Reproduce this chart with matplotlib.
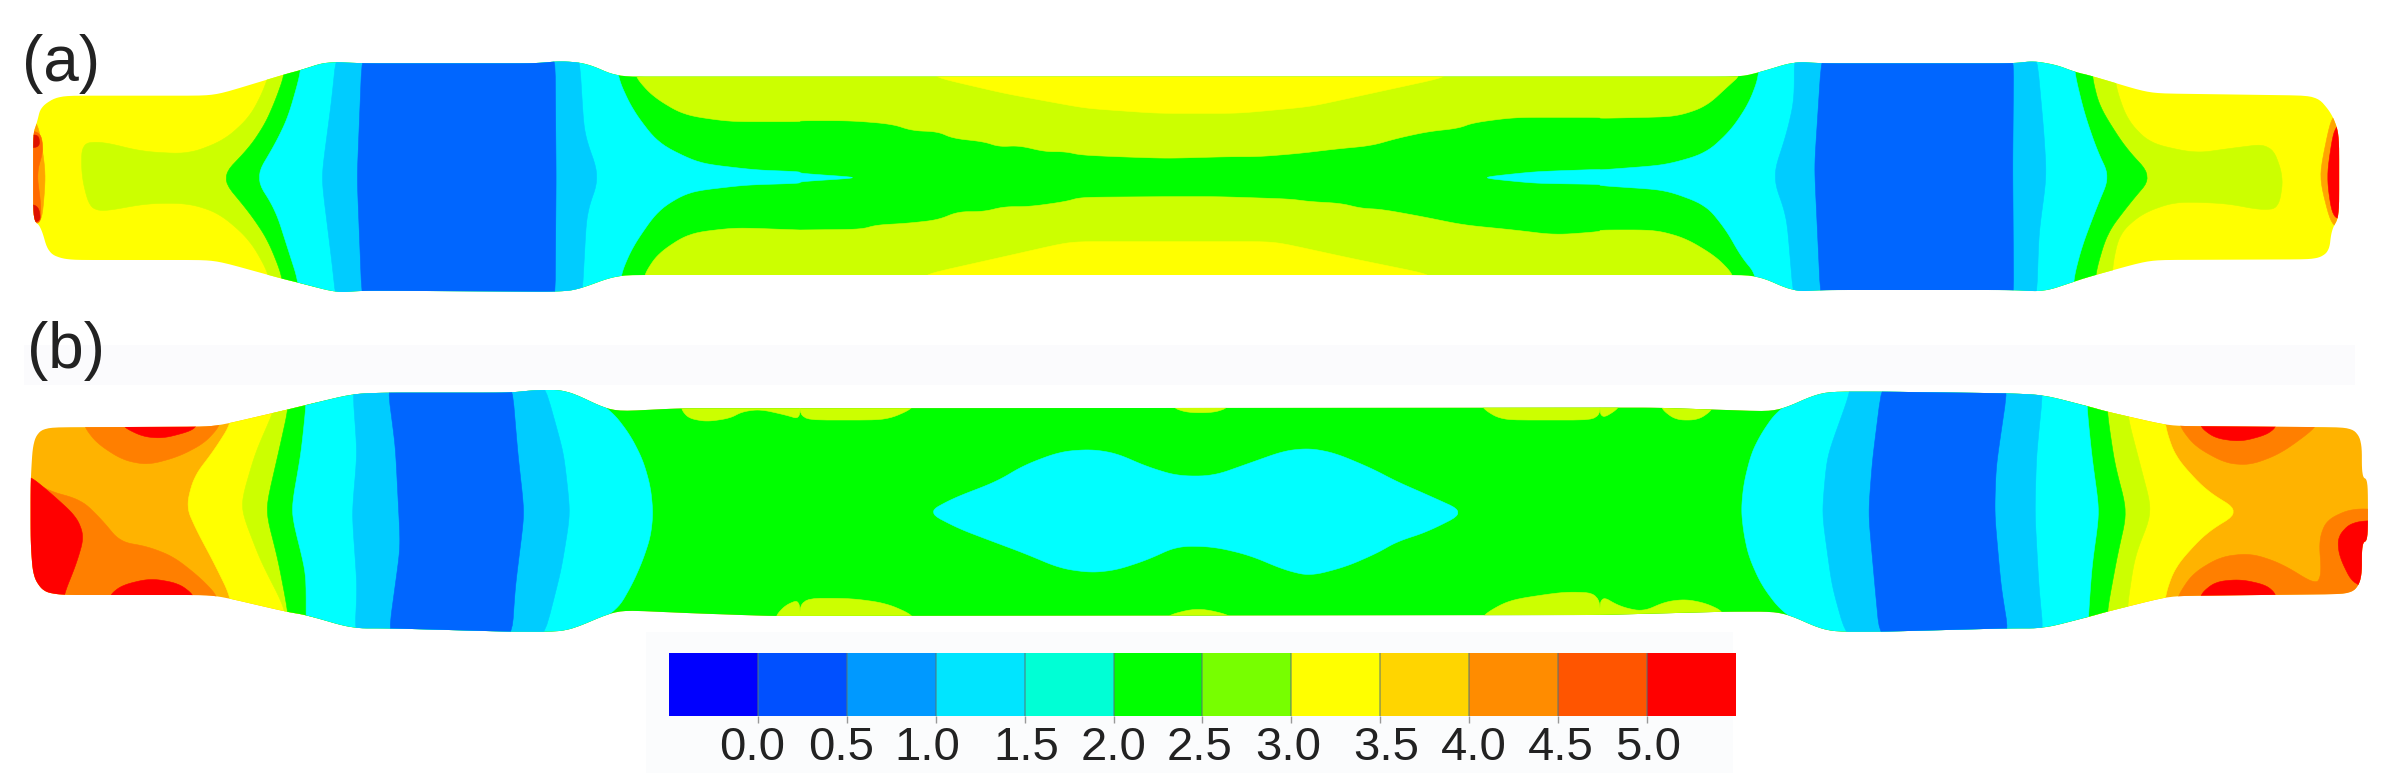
import numpy as np
import matplotlib
matplotlib.use('Agg')
import matplotlib.pyplot as plt
from matplotlib.colors import ListedColormap
from matplotlib.patches import Polygon

plt.rcParams['font.family'] = ['Liberation Sans', 'DejaVu Sans']

# colours of the contour bands
YELLOW = '#ffff00'
LIME = '#ccff00'
GREEN = '#00ff00'
CYAN = '#00ffff'
SKY = '#00ccff'
BLUE = '#0066ff'
AMBER = '#ffb300'
ORANGE = '#ff7f00'
RED = '#ff0000'

# colour bar
bar_levels = np.arange(-0.5, 5.51, 0.5)
bar_colors = ['#0000ff', '#0050ff', '#0099ff', '#00e5ff', '#00ffd5', '#00ff00',
              '#77ff00', '#ffff00', '#ffd500', '#ff8c00', '#ff5500', '#ff0000']
bar_ticks = [0.0, 0.5, 1.0, 1.5, 2.0, 2.5, 3.0, 3.5, 4.0, 4.5, 5.0]
bar_nudge = [-0.034, -0.034, -0.045, 0.011, 0.0, -0.017, -0.017, 0.034, 0.028, 0.017, 0.006]

# outlines read from the crops: (x, y) inside crop, split by crop
# panel (a), crops a1 (0,0), a2 (800,0), a3 (1600,0)
a_body_1 = [(72, 370), (80, 320), (115, 287), (420, 287), (560, 222), (590, 210), (640, 185), (710, 190),
            (1050, 190), (1100, 183), (1150, 190), (1210, 230)]
a_body_3 = [(280, 230), (320, 215), (385, 185), (440, 190), (820, 190), (860, 183), (905, 195), (940, 215),
            (975, 228), (1090, 280), (1420, 287), (1450, 340), (1465, 400), (1465, 650), (1450, 690), (1445, 755),
            (1420, 778), (1090, 780), (970, 830), (940, 845), (880, 875), (820, 870), (440, 870), (385, 875),
            (310, 825)]
a_body_4 = [(1210, 825), (1130, 870), (1090, 875), (710, 872), (660, 878), (590, 850), (550, 835), (420, 780),
            (130, 780), (95, 760), (80, 680), (65, 660), (65, 400)]

a_tip_l_orange = [(55, 360), (75, 370), (90, 520), (82, 670), (55, 670)]
a_tip_l_dark = [(55, 390), (80, 400), (85, 450), (72, 520), (80, 610), (80, 670), (55, 670)]
a_tip_l_red = [(55, 405), (76, 405), (78, 440), (55, 445)]
a_tip_l_red2 = [(55, 610), (76, 620), (80, 665), (55, 665)]
a_tip_r_orange = [(1480, 340), (1450, 345), (1425, 530), (1450, 680), (1480, 680)]
a_tip_r_red = [(1480, 370), (1455, 380), (1440, 530), (1452, 655), (1480, 655)]

a_lime_l = [(540, 150), (520, 260), (490, 350), (440, 420), (370, 462), (280, 455), (200, 425), (160, 430),
            (160, 530), (175, 620), (200, 635), (290, 610), (370, 610), (430, 640), (490, 720), (530, 830),
            (530, 920), (620, 920), (620, 150)]
a_lime_r = [(960, 150), (1020, 150), (1020, 250), (1045, 360), (1090, 430), (1180, 460), (1250, 445), (1330, 430),
            (1355, 530), (1345, 625), (1310, 630), (1240, 610), (1140, 605), (1075, 640), (1030, 700), (1015, 800),
            (1015, 920), (960, 920)]
a_green_l = [(558, 150), (558, 222), (540, 300), (520, 370), (490, 440), (432, 533), (490, 640), (525, 720),
             (555, 835), (555, 920)]
a_green_r = [(985, 920), (980, 830), (1005, 700), (1050, 610), (1095, 530), (1040, 440), (990, 320), (975, 228),
             (975, 150)]
a_cyan_l_1 = [(590, 150), (590, 215), (565, 350), (540, 430), (500, 533), (540, 630), (565, 750), (585, 845),
              (585, 920), (1215, 920), (1215, 830), (1240, 740), (1290, 630), (1350, 575), (1460, 555), (1568, 550)]
a_cyan_l_2 = [(0, 545), (120, 533), (0, 520)]
a_cyan_l_3 = [(1568, 515), (1480, 510), (1370, 490), (1290, 430), (1240, 330), (1210, 230), (1210, 150)]
a_cyan_r_1 = [(315, 150), (315, 230), (295, 310), (260, 390), (210, 460), (130, 495), (0, 510)]
a_cyan_r_2 = [(1568, 508), (1440, 515), (1330, 533), (1440, 550), (1568, 553)]
a_cyan_r_3 = [(0, 557), (130, 570), (210, 615), (250, 690), (280, 770), (310, 825), (310, 920), (938, 920),
              (938, 840), (955, 740), (985, 620), (1010, 530), (985, 450), (960, 340), (940, 215), (940, 150)]
a_sky_l = [(660, 150), (650, 300), (630, 533), (650, 780), (660, 920), (1140, 920), (1150, 640), (1175, 530),
           (1145, 400), (1135, 150)]
a_blue_l = [(710, 150), (700, 533), (710, 920), (1088, 920), (1090, 533), (1088, 150)]
a_sky_r = [(385, 150), (385, 300), (370, 400), (342, 530), (370, 650), (385, 920), (865, 920), (870, 700),
           (885, 530), (880, 400), (865, 150)]
a_blue_r = [(440, 150), (425, 500), (438, 920), (820, 920), (818, 500), (820, 150)]

a_lime_top_1 = [(1245, 190), (1245, 230), (1280, 290), (1340, 345), (1430, 365), (1568, 365)]
a_lime_top_2 = [(0, 362), (100, 362), (180, 372), (220, 392), (270, 395), (300, 415), (360, 425), (390, 440),
                (430, 437), (480, 455), (520, 455), (550, 465), (620, 470), (720, 475), (840, 470), (900, 470),
                (980, 460), (1050, 447), (1120, 437), (1170, 415), (1230, 395), (1290, 385), (1320, 368),
                (1400, 352), (1568, 352)]
a_lime_top_3 = [(0, 355), (150, 350), (210, 320), (260, 250), (275, 230), (275, 190)]
a_lime_bot_1 = [(1262, 870), (1262, 825), (1290, 760), (1350, 700), (1440, 683), (1568, 690)]
a_lime_bot_2 = [(0, 690), (120, 688), (150, 675), (210, 670), (270, 660), (310, 635), (360, 635), (400, 620),
                (450, 620), (520, 605), (550, 592), (720, 590), (820, 590), (960, 597), (1000, 605), (1060, 610),
                (1100, 625), (1140, 628), (1220, 650), (1300, 675), (1400, 690), (1480, 705), (1568, 695)]
a_lime_bot_3 = [(0, 690), (110, 690), (170, 715), (230, 770), (265, 825), (265, 870)]
a_yellow_top = [(260, 190), (260, 230), (400, 280), (560, 325), (700, 340), (860, 340), (1000, 320), (1150, 270),
                (1270, 230), (1270, 190)]
a_yellow_bot = [(240, 870), (240, 825), (400, 770), (530, 725), (930, 725), (1080, 775), (1240, 825), (1240, 870)]

# panel (b), crops b1 (0,320), b2 (800,340), b3 (1600,340)
b_body_1 = [(60, 480), (65, 360), (85, 322), (420, 320), (560, 270), (600, 255), (690, 222), (750, 218),
            (1000, 218), (1050, 210), (1110, 210), (1200, 275), (1330, 265)]
b_body_3 = [(40, 203), (110, 203), (350, 215), (440, 155), (560, 155), (810, 160), (880, 165), (970, 200),
            (1005, 215), (1130, 258), (1490, 262), (1510, 300), (1510, 410), (1522, 420), (1522, 600), (1510, 610),
            (1510, 720), (1490, 762), (1130, 768), (1005, 815), (970, 830), (880, 865), (810, 865), (560, 875),
            (450, 875), (360, 815), (250, 815), (0, 825)]
b_body_4 = [(1510, 888), (1360, 880), (1210, 870), (1110, 935), (1000, 935), (760, 925), (690, 925), (600, 885),
            (560, 875), (420, 825), (120, 825), (85, 815), (65, 770), (60, 670)]

b_or_l_top = [(165, 290), (165, 320), (190, 370), (240, 420), (290, 435), (350, 410), (400, 370), (430, 320), (430, 290)]
b_red_l_top = [(240, 290), (240, 320), (280, 350), (320, 355), (370, 335), (385, 320), (385, 290)]
b_or_l_bot = [(40, 470), (60, 470), (90, 510), (160, 540), (200, 600), (235, 665), (290, 680), (340, 710), (390, 770),
              (425, 825), (425, 860), (40, 860)]
b_red_l = [(40, 470), (60, 470), (100, 520), (150, 590), (165, 650), (150, 730), (125, 825), (125, 860), (40, 860)]
b_red_l_bot = [(215, 860), (215, 825), (240, 795), (295, 775), (350, 790), (380, 825), (380, 860)]

b_yellow_l = [(455, 200), (455, 305), (420, 390), (380, 470), (365, 560), (385, 630), (420, 730), (455, 840), (455, 960),
              (620, 960), (620, 200)]
b_lime_l = [(540, 200), (540, 260), (500, 400), (470, 560), (510, 720), (560, 870), (560, 960), (620, 960), (620, 200)]
b_green_l = [(565, 200), (565, 265), (550, 370), (520, 570), (545, 720), (565, 880), (565, 960)]
b_cyan_l = [(600, 180), (600, 255), (590, 400), (570, 575), (600, 760), (600, 960), (1110, 960), (1210, 870),
            (1240, 790), (1260, 720), (1275, 650), (1280, 580), (1275, 500), (1260, 420), (1235, 345), (1200, 275), (1110, 180)]
b_sky_l = [(690, 180), (700, 400), (690, 580), (700, 800), (695, 960), (1065, 960), (1100, 750), (1118, 580),
           (1105, 400), (1065, 180)]
b_blue_l = [(758, 180), (775, 380), (785, 680), (760, 960), (1003, 960), (1010, 800), (1028, 580), (1015, 400),
            (1003, 180)]

b_yellow_r = [(960, 120), (1118, 120), (1118, 250), (1140, 350), (1200, 450), (1270, 515), (1200, 580), (1140, 680),
              (1118, 775), (1118, 900), (960, 900)]
b_lime_r = [(960, 120), (1045, 120), (1045, 225), (1070, 370), (1095, 515), (1060, 650), (1045, 800), (1045, 900), (960, 900)]
b_green_r = [(1005, 900), (1005, 815), (1025, 650), (1045, 515), (1020, 370), (1005, 215), (1005, 120)]
b_cyan_r = [(440, 120), (350, 215), (320, 280), (300, 340), (285, 430), (280, 510), (285, 580), (295, 650), (320, 735),
            (360, 815), (450, 900), (968, 900), (968, 830), (975, 680), (990, 515), (975, 350), (965, 200), (965, 120)]
b_sky_r = [(495, 120), (495, 160), (450, 350), (440, 520), (460, 740), (490, 900), (880, 900), (870, 740), (862, 520),
           (865, 350), (880, 120)]
b_blue_r = [(560, 120), (540, 360), (532, 520), (545, 740), (555, 900), (812, 900), (795, 740), (782, 520), (785, 380),
            (810, 120)]
b_or_r_top = [(1150, 230), (1150, 262), (1180, 320), (1240, 370), (1290, 375), (1350, 340), (1420, 262), (1420, 230)]
b_red_r_top = [(1190, 230), (1190, 262), (1220, 295), (1270, 305), (1320, 285), (1340, 262), (1340, 230)]
b_or_r_bot = [(1145, 800), (1145, 768), (1175, 700), (1230, 650), (1290, 640), (1350, 670), (1420, 735), (1430, 700),
              (1425, 600), (1440, 540), (1490, 505), (1560, 510), (1560, 800)]
b_red_r_bot = [(1190, 800), (1190, 762), (1220, 725), (1270, 718), (1320, 735), (1340, 762), (1340, 800)]
b_red_r = [(1560, 540), (1490, 545), (1462, 590), (1465, 650), (1495, 740), (1560, 740)]

b_lime_t1 = [(1335, 230), (1335, 268), (1350, 295), (1385, 305), (1430, 295), (1455, 275), (1490, 268), (1540, 285),
             (1568, 298), (1568, 230)]
b_lime_t2 = [(0, 160), (0, 240), (170, 240), (225, 203), (225, 160)]
b_lime_t3 = [(730, 160), (730, 203), (760, 218), (810, 218), (840, 203), (840, 160)]
b_lime_t4 = [(1335, 160), (1335, 203), (1375, 240), (1568, 240), (1568, 160)]
b_lime_t5 = [(0, 160), (0, 240), (40, 203), (40, 160)]
b_lime_t6 = [(120, 160), (120, 205), (150, 240), (195, 240), (225, 207), (225, 160)]
b_lime_b1 = [(1520, 930), (1520, 888), (1540, 855), (1568, 838), (1568, 930)]
b_lime_b2 = [(0, 870), (0, 775), (100, 775), (170, 790), (225, 828), (225, 870)]
b_lime_b3 = [(715, 870), (715, 828), (780, 803), (850, 828), (850, 870)]
b_lime_b4 = [(1335, 870), (1335, 828), (1390, 780), (1500, 755), (1568, 760), (1568, 870)]
b_lime_b5 = [(0, 860), (0, 765), (40, 800), (85, 815), (130, 785), (170, 778), (210, 790), (245, 815), (245, 860)]
b_diamond = [(250, 517), (300, 475), (385, 425), (440, 375), (510, 335), (570, 328), (620, 340), (680, 380), (740, 408),
             (810, 408), (880, 370), (950, 332), (1000, 325), (1050, 340), (1120, 385), (1170, 425), (1230, 465),
             (1305, 517), (1230, 575), (1170, 605), (1130, 640), (1070, 680), (1000, 708), (950, 690), (880, 645),
             (810, 620), (740, 618), (680, 660), (620, 690), (570, 698), (510, 685), (440, 640), (370, 600), (310, 565)]


def crop(pts, x0, y0, sx):
    # crop coordinates back to pixels of the whole picture
    pts = np.array(pts, dtype=float)
    return np.column_stack([pts[:, 0] / sx + x0, pts[:, 1] / 3 + y0])


def a1(p): return crop(p, 0, 0, 1.96)
def a2(p): return crop(p, 800, 0, 1.96)
def a3(p): return crop(p, 1600, 0, 1.982)
def b1(p): return crop(p, 0, 320, 1.96)
def b2(p): return crop(p, 800, 340, 1.96)
def b3(p): return crop(p, 1600, 340, 1.982)


def rounded(pts, n=3, cut=0.22, most=9.0):
    # corner cutting, at most a few pixels per edge, so long edges stay where they are
    for _ in range(n):
        nxt = np.roll(pts, -1, axis=0)
        seg = np.hypot(*(nxt - pts).T)
        t = np.minimum(cut, most / np.maximum(seg, 1e-6))[:, None]
        pts = np.column_stack([(1 - t) * pts + t * nxt, t * pts + (1 - t) * nxt]).reshape(-1, 2)
    return pts


W, H = 2391, 783
fig = plt.figure(figsize=(W / 100, H / 100), dpi=100)
ax = fig.add_axes([0, 0, 1, 1])
ax.set_xlim(0, W)
ax.set_ylim(H, 0)
ax.axis('off')

# faint grey bands left by the scan
ax.axhspan(345, 385, xmin=0.01, xmax=0.985, color='#fbfbfd', lw=0)
ax.axhspan(632, 773, xmin=0.27, xmax=0.725, color='#fbfcfd', lw=0)


def draw_panel(body, base, layers):
    patch = Polygon(rounded(body), closed=True, fc=base, ec='none')
    ax.add_patch(patch)
    for pts, color in layers:
        p = Polygon(rounded(pts), closed=True, fc=color, ec=color, lw=0.4)
        ax.add_patch(p)
        p.set_clip_path(patch)


a_body = np.vstack([a1(a_body_1), a3(a_body_3), a1(a_body_4)])
a_green = np.vstack([a1(a_green_l), a3(a_green_r)])
a_cyan_l = np.vstack([a1(a_cyan_l_1), a2(a_cyan_l_2), a1(a_cyan_l_3)])
a_cyan_r = np.vstack([a3(a_cyan_r_1), a2(a_cyan_r_2), a3(a_cyan_r_3)])
a_lime_top = np.vstack([a1(a_lime_top_1), a2(a_lime_top_2), a3(a_lime_top_3)])
a_lime_bot = np.vstack([a1(a_lime_bot_1), a2(a_lime_bot_2), a3(a_lime_bot_3)])
draw_panel(a_body, YELLOW, [
    (a1(a_lime_l), LIME), (a3(a_lime_r), LIME), (a_green, GREEN), (a_cyan_l, CYAN), (a_cyan_r, CYAN),
    (a1(a_sky_l), SKY), (a1(a_blue_l), BLUE), (a3(a_sky_r), SKY), (a3(a_blue_r), BLUE),
    (a_lime_top, LIME), (a_lime_bot, LIME), (a2(a_yellow_top), YELLOW), (a2(a_yellow_bot), YELLOW),
    (a1(a_tip_l_orange), '#ffa500'), (a1(a_tip_l_dark), '#ff6a00'), (a1(a_tip_l_red), '#dd1100'),
    (a1(a_tip_l_red2), '#dd1100'), (a3(a_tip_r_orange), '#ffa500'), (a3(a_tip_r_red), RED),
])

b_body = np.vstack([b1(b_body_1), b3(b_body_3), b1(b_body_4)])
b_green = np.vstack([b1(b_green_l), b3(b_green_r)])
draw_panel(b_body, AMBER, [
    (b1(b_or_l_top), ORANGE), (b1(b_red_l_top), RED), (b1(b_or_l_bot), ORANGE), (b1(b_red_l), RED),
    (b1(b_red_l_bot), RED), (b3(b_or_r_top), ORANGE), (b3(b_red_r_top), RED), (b3(b_or_r_bot), ORANGE),
    (b3(b_red_r_bot), RED), (b3(b_red_r), RED),
    (b1(b_yellow_l), YELLOW), (b1(b_lime_l), LIME), (b3(b_yellow_r), YELLOW), (b3(b_lime_r), LIME),
    (b_green, GREEN), (b1(b_cyan_l), CYAN), (b1(b_sky_l), SKY), (b1(b_blue_l), BLUE),
    (b3(b_cyan_r), CYAN), (b3(b_sky_r), SKY), (b3(b_blue_r), BLUE),
    (b1(b_lime_t1), LIME), (b2(b_lime_t2), LIME), (b2(b_lime_t3), LIME), (b2(b_lime_t4), LIME), (b3(b_lime_t5), LIME),
    (b3(b_lime_t6), LIME), (b1(b_lime_b1), LIME), (b2(b_lime_b2), LIME), (b2(b_lime_b3), LIME), (b2(b_lime_b4), LIME),
    (b3(b_lime_b5), LIME), (b2(b_diamond), CYAN),
])

ax.text(61, 64, '(a)', fontsize=46, color='#222222', ha='center', va='center', zorder=5)
ax.text(66, 351, '(b)', fontsize=46, color='#222222', ha='center', va='center', zorder=5)

# colour bar
cax = fig.add_axes([669 / W, 1 - 716 / H, (1736 - 669) / W, (716 - 653) / H])
cmap = ListedColormap(bar_colors)
cax.pcolormesh(bar_levels, [0, 1], np.arange(12).reshape(1, 12), cmap=cmap, vmin=-0.5, vmax=11.5)
cax.vlines(bar_levels[1:-1], 0, 1, color='#557777', lw=1.2, alpha=0.6)
cax.set_xlim(bar_levels[0], bar_levels[-1])
cax.set_ylim(0, 1)
cax.set_yticks([])
cax.set_xticks(bar_ticks)
cax.set_xticklabels([])
cax.tick_params(axis='x', length=5, width=1, color='#999999')
for s in cax.spines.values():
    s.set_visible(False)
for t, n in zip(bar_ticks, bar_nudge):
    cax.text(t + n, -0.70, f'{t:.1f}', fontsize=34, color='#222222', ha='center', va='baseline')

fig.savefig('out.png', dpi=100)
